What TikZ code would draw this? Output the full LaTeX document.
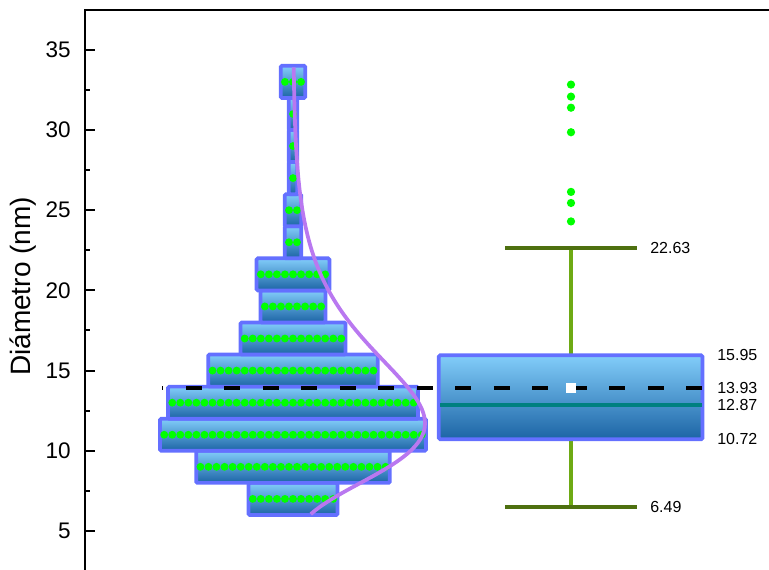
\documentclass[tikz,border=0pt]{standalone}
\usepackage{fontspec}
\setmainfont{Liberation Sans}
\definecolor{barline}{RGB}{100,112,255}
\definecolor{barhi}{RGB}{130,205,250}
\definecolor{barlo}{RGB}{28,100,165}
\definecolor{dotgreen}{RGB}{0,255,0}
\definecolor{fitc}{RGB}{185,120,240}
\definecolor{whiskc}{RGB}{110,170,20}
\definecolor{capc}{RGB}{78,112,16}
\definecolor{medc}{RGB}{0,128,128}
\tikzset{bar/.style={draw=barline, line width=2.8pt, top color=barhi, bottom color=barlo, rounded corners=1pt},
  pt/.style={fill=dotgreen}, spine/.style={black, line width=1.5pt},
  fit/.style={fitc, line width=2.8pt}, whisk/.style={whiskc, line width=2.5pt}, capline/.style={capc, line width=3pt},
  medline/.style={medc, line width=2.8pt}, meanline/.style={black, line width=3pt, dash pattern=on 12pt off 16.875pt, dash phase=10.9pt},
  ticklab/.style={anchor=east, inner sep=0pt, font=\fontsize{16.9}{18}\selectfont},
  vallab/.style={anchor=west, inner sep=0pt, font=\fontsize{12}{14}\selectfont}}
\def\bins{6/11,8/24,10/33,12/31,14/21,16/13,18/8,20/9,22/2,24/2,26/1,28/1,30/1,32/3}

\begin{document}
\begin{tikzpicture}[x=0.75pt, y=12.03pt]
  \useasboundingbox (0,2.5686) rectangle (769,38.1047);
  \draw[spine] (85,2.5686) -- (85,37.48) -- (769,37.48);
  \foreach \v in {5,10,...,35} {
    \draw[spine] (85,\v) -- (95,\v);
    \node[ticklab] (t\v) at (71,\v) {\v};
  }
  \foreach \v in {7.5,12.5,...,32.5} \draw[spine] (85,\v) -- (90,\v);
  \node[rotate=90, anchor=base, inner sep=0pt, font=\fontsize{21}{24}\selectfont] (ytitle) at (31,20.24) {Diámetro (nm)};
  \foreach \lo/\n in \bins {
    \pgfmathsetmacro\hw{4.025*\n+0.25}
    \path[bar] ({293-\hw},\lo) rectangle ({293+\hw},{\lo+2});
  }
  \foreach \lo/\n in \bins
    \foreach \k in {1,...,\n} \fill[pt] ({293+(\k-(\n+1)/2)*8.05},{\lo+1}) circle (2.95pt);
  \draw[fit] plot[domain=6.05:33.9, samples=120, variable=\v]
    ({293+132*(11.717/\v)*exp(0.05445-(ln(\v)-2.57)*(ln(\v)-2.57)/0.2178)}, \v);
  \draw[whisk] (571,15.95) -- (571,22.63);
  \draw[whisk] (571,10.72) -- (571,6.49);
  \draw[capline] (505,22.63) -- (637,22.63);
  \draw[capline] (505,6.49) -- (637,6.49);
  \path[bar] (438.8,10.72) rectangle (702.5,15.95);
  \draw[medline] (440,12.87) -- (702,12.87);
  \draw[meanline] (162,13.93) -- (703,13.93);
  \node[fill=white, inner sep=0pt, minimum size=7.5pt] (mean) at (571,13.93) {};
  \foreach \v in {32.83,32.08,31.39,29.86,26.14,25.45,24.30} \fill[pt] (571,\v) circle (3.1pt);
  \node[vallab] (upper) at (650,22.63) {22.63};
  \node[vallab] (lower) at (650,6.49) {6.49};
  \node[vallab] (q3) at (717,15.95) {15.95};
  \node[vallab] (avg) at (717,13.93) {13.93};
  \node[vallab] (med) at (717,12.87) {12.87};
  \node[vallab] (q1) at (717,10.72) {10.72};
\end{tikzpicture}
\end{document}
